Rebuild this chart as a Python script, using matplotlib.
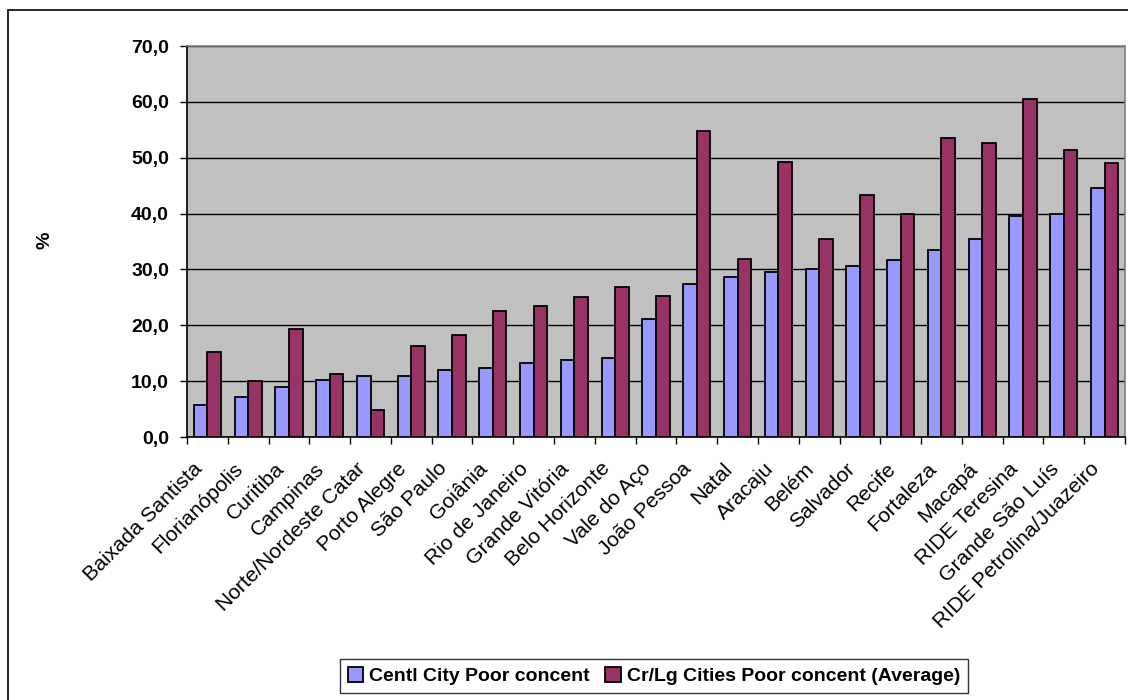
import matplotlib
matplotlib.use("Agg")
import matplotlib.pyplot as plt
from matplotlib.patches import Rectangle
from matplotlib.transforms import ScaledTranslation
import numpy as np

plt.rcParams['font.family'] = ['Liberation Sans', 'DejaVu Sans']

regions = ["Baixada Santista", "Florianópolis", "Curitiba", "Campinas",
           "Norte/Nordeste Catar", "Porto Alegre", "São Paulo", "Goiânia",
           "Rio de Janeiro", "Grande Vitória", "Belo Horizonte", "Vale do Aço",
           "João Pessoa", "Natal", "Aracaju", "Belém", "Salvador", "Recife",
           "Fortaleza", "Macapá", "RIDE Teresina", "Grande São Luís",
           "RIDE Petrolina/Juazeiro"]
central_city = [5.7, 7.2, 9.0, 10.2, 11.0, 11.0, 12.0, 12.3, 13.2, 13.8, 14.1, 21.2,
                27.4, 28.6, 29.5, 30.1, 30.7, 31.6, 33.4, 35.4, 39.6, 39.9, 44.6]
cr_lg_cities = [15.3, 10.0, 19.3, 11.3, 4.8, 16.3, 18.2, 22.6, 23.5, 25.0, 26.8, 25.3,
                54.8, 31.9, 49.2, 35.4, 43.4, 39.9, 53.5, 52.7, 60.6, 51.4, 49.1]
series_names = ["Centl City Poor concent", "Cr/Lg Cities Poor concent (Average)"]
yticks = [0, 10, 20, 30, 40, 50, 60, 70]

fig = plt.figure(figsize=(11.28, 7.0), dpi=100)

# outer chart frame (only left and top edges are visible)
fig.patches.append(Rectangle((8 / 1128, -0.05), 1.2, 1 - 10 / 700 + 0.05,
                             transform=fig.transFigure, fill=False,
                             edgecolor='black', linewidth=1.2))

ax = fig.add_axes([187 / 1128, 1 - 437 / 700, (1125 - 187) / 1128, (437 - 46) / 700])
ax.set_facecolor('#C0C0C0')

x = np.arange(len(regions))
w = 1 / 3
ax.bar(x - w / 2, central_city, width=w, color='#9999FF', edgecolor='black',
       linewidth=1.3, label=series_names[0], zorder=3)
ax.bar(x + w / 2, cr_lg_cities, width=w, color='#993366', edgecolor='black',
       linewidth=1.3, label=series_names[1], zorder=3)

ax.set_xlim(-0.5, len(regions) - 0.5)
ax.set_ylim(0, 70)
ax.set_yticks(yticks)
ax.set_yticklabels([f"{v:.1f}".replace('.', ',') for v in yticks],
                   fontsize=14, fontweight='bold')
ax.yaxis.grid(True, color='black', linewidth=1.0, zorder=1)
ax.set_axisbelow(True)

# category boundaries carry the ticks; labels sit at the centres
ax.set_xticks(np.arange(len(regions) + 1) - 0.5)
ax.set_xticklabels([])
ax.tick_params(axis='x', which='major', length=5, width=1, direction='out')
ax.set_xticks(x, minor=True)
ax.set_xticklabels(regions, minor=True, rotation=45, ha='right', va='center',
                   rotation_mode='anchor', fontsize=15.2)
ax.tick_params(axis='x', which='minor', length=0, pad=12)
shift = ScaledTranslation(-8 / 100, -12 / 100, fig.dpi_scale_trans)
for lbl in ax.get_xticklabels(minor=True):
    lbl.set_transform(lbl.get_transform() + shift)
ax.tick_params(axis='y', length=5, width=1, direction='out', pad=8)

for side in ['left', 'bottom']:
    ax.spines[side].set_color('black')
    ax.spines[side].set_linewidth(1.2)
for side in ['top', 'right']:
    ax.spines[side].set_color('#808080')
    ax.spines[side].set_linewidth(1.2)

fig.text(45 / 1128, 1 - 240 / 700, "%", rotation=90, fontsize=14,
         fontweight='bold', ha='center', va='center')

leg = fig.legend(loc='center', bbox_to_anchor=(654 / 1128, 1 - 676 / 700),
                 ncol=2, frameon=True, fancybox=False, edgecolor='black',
                 prop={'weight': 'bold', 'size': 14}, handlelength=0.8,
                 handleheight=0.8, handletextpad=0.3, columnspacing=0.8,
                 borderpad=0.4)
leg.get_frame().set_linewidth(1.0)

fig.savefig("out.png", dpi=100)
